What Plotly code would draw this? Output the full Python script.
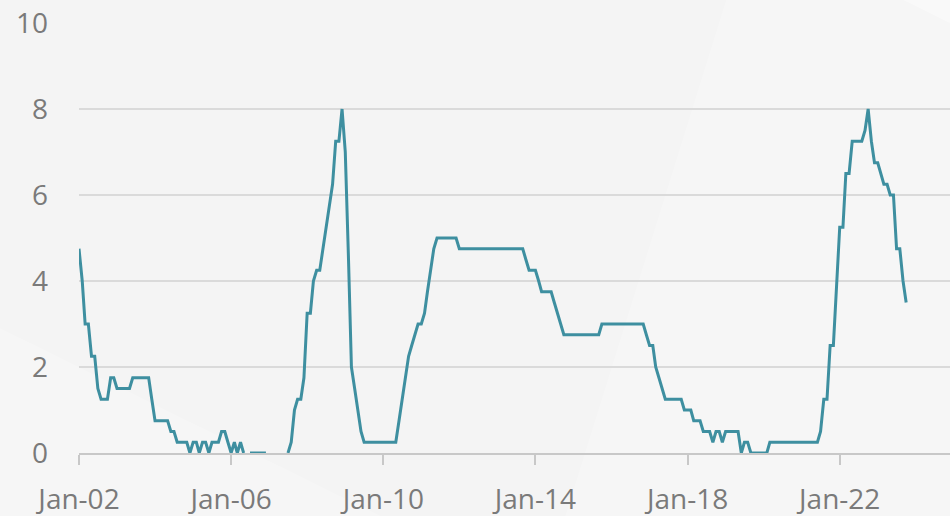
import pandas as pd
import plotly.graph_objects as go

# Monthly values, Jan 2002 onwards (None = not shown / below axis)
y2002 = [4.75, 4.0, 3.0, 3.0, 2.25, 2.25, 1.5, 1.25, 1.25, 1.25, 1.75, 1.75]
y2003 = [1.5, 1.5, 1.5, 1.5, 1.5, 1.75, 1.75, 1.75, 1.75, 1.75, 1.75, 1.25]
y2004 = [0.75, 0.75, 0.75, 0.75, 0.75, 0.5, 0.5, 0.25, 0.25, 0.25, 0.25, 0]
y2005 = [0.25, 0.25, 0, 0.25, 0.25, 0, 0.25, 0.25, 0.25, 0.5, 0.5, 0.25]
y2006 = [0, 0.25, 0, 0.25, 0, None, 0, 0, 0, 0, 0, 0]
y2007 = [None, None, None, None, None, None, 0, 0.25, 1.0, 1.25, 1.25, 1.75]
y2008 = [3.25, 3.25, 4.0, 4.25, 4.25, 4.75, 5.25, 5.75, 6.25, 7.25, 7.25, 8.0]
y2009 = [7.0, 4.5, 2.0, 1.5, 1.0, 0.5, 0.25, 0.25, 0.25, 0.25, 0.25, 0.25]
y2010 = [0.25, 0.25, 0.25, 0.25, 0.25, 0.75, 1.25, 1.75, 2.25, 2.5, 2.75, 3.0]
y2011 = [3.0, 3.25, 3.75, 4.25, 4.75, 5.0, 5.0, 5.0, 5.0, 5.0, 5.0, 5.0]
y2012 = [4.75, 4.75, 4.75, 4.75, 4.75, 4.75, 4.75, 4.75, 4.75, 4.75, 4.75, 4.75]
y2013 = [4.75, 4.75, 4.75, 4.75, 4.75, 4.75, 4.75, 4.75, 4.75, 4.5, 4.25, 4.25]
y2014 = [4.25, 4.0, 3.75, 3.75, 3.75, 3.75, 3.5, 3.25, 3.0, 2.75, 2.75, 2.75]
y2015 = [2.75, 2.75, 2.75, 2.75, 2.75, 2.75, 2.75, 2.75, 2.75, 3.0, 3.0, 3.0]
y2016 = [3.0, 3.0, 3.0, 3.0, 3.0, 3.0, 3.0, 3.0, 3.0, 3.0, 3.0, 2.75]
y2017 = [2.5, 2.5, 2.0, 1.75, 1.5, 1.25, 1.25, 1.25, 1.25, 1.25, 1.25, 1.0]
y2018 = [1.0, 1.0, 0.75, 0.75, 0.75, 0.5, 0.5, 0.5, 0.25, 0.5, 0.5, 0.25]
y2019 = [0.5, 0.5, 0.5, 0.5, 0.5, 0, 0.25, 0.25, 0, 0, 0, 0]
y2020 = [0, 0, 0.25, 0.25, 0.25, 0.25, 0.25, 0.25, 0.25, 0.25, 0.25, 0.25]
y2021 = [0.25, 0.25, 0.25, 0.25, 0.25, 0.25, 0.5, 1.25, 1.25, 2.5, 2.5, 3.9]
y2022 = [5.25, 5.25, 6.5, 6.5, 7.25, 7.25, 7.25, 7.25, 7.5, 8.0, 7.25, 6.75]
y2023 = [6.75, 6.5, 6.25, 6.25, 6.0, 6.0, 4.75, 4.75, 4.0, 3.5]

start_month = "2002-01-01"
y_ticks = [0, 2, 4, 6, 8, 10]

values = (y2002 + y2003 + y2004 + y2005 + y2006 + y2007 + y2008 + y2009 + y2010
          + y2011 + y2012 + y2013 + y2014 + y2015 + y2016 + y2017 + y2018
          + y2019 + y2020 + y2021 + y2022 + y2023)
dates = pd.date_range(start_month, periods=len(values), freq="MS")

FONT = "Open Sans"
TXT = "#7a7a7a"

fig = go.Figure()
fig.add_trace(go.Scatter(
    x=dates, y=values, mode="lines",
    line=dict(color="#3e8fa0", width=3),
    connectgaps=False, showlegend=False,
))

# faint decorative background facets
bg_shapes = [
    dict(path="M 0.55 -0.2 L 0.75 1.1 L 1.1 1.1 L 1.1 -0.2 Z", opacity=0.18),
    dict(path="M -0.1 0.3 L 0.4 -0.2 L -0.1 -0.2 Z", opacity=0.2),
    dict(path="M 0.9 1.1 L 1.1 1.1 L 1.1 0.9 Z", opacity=0.4),
]
for s in bg_shapes:
    fig.add_shape(type="path", path=s["path"], xref="paper", yref="paper",
                  fillcolor="white", opacity=s["opacity"], line_width=0,
                  layer="below")

fig.update_layout(
    width=950, height=516,
    margin=dict(l=79, r=0, t=23, b=63, autoexpand=False),
    paper_bgcolor="#f4f4f4",
    plot_bgcolor="rgba(0,0,0,0)",
    font=dict(family=FONT, color=TXT, size=28),
)
fig.update_xaxes(
    type="date", automargin=False,
    range=["2002-01-01", "2024-11-25"],
    tick0="2002-01-01", dtick="M48", tickformat="%b-%y",
    showgrid=False, zeroline=False,
    showline=True, linecolor="#c8c8c8", linewidth=2,
    ticks="outside", ticklen=10, tickwidth=2, tickcolor="#c8c8c8",
    ticklabelstandoff=10,
    tickfont=dict(family=FONT, size=28, color=TXT),
)
fig.update_yaxes(
    automargin=False,
    range=[0, 10], tickvals=y_ticks,
    showgrid=True, gridcolor="#dadada", gridwidth=2,
    zeroline=False, showline=False, ticks="",
    ticklabelstandoff=30,
    tickfont=dict(family=FONT, size=28, color=TXT),
)

fig.write_html(
    "out.html",
    config={"displayModeBar": False},
    post_script="document.body.style.margin='0';document.body.style.overflow='hidden';",
)
